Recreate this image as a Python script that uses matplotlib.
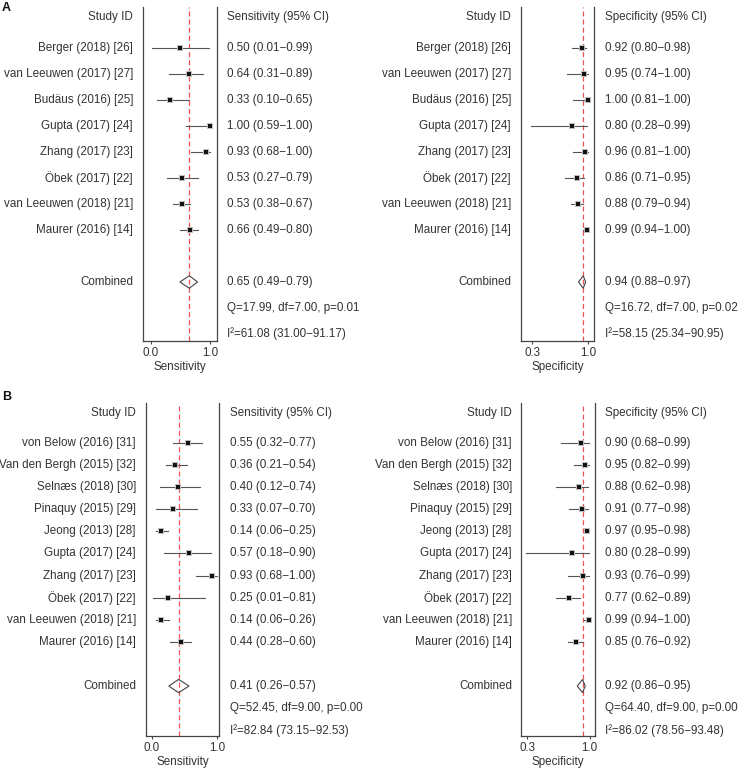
import matplotlib
matplotlib.use('Agg')
import matplotlib.pyplot as plt
from matplotlib.patches import Polygon
from matplotlib.transforms import blended_transform_factory

plt.rcParams['font.family'] = ['Liberation Sans', 'DejaVu Sans']

# Panel A data
studies_a = ['Berger (2018) [26]', 'van Leeuwen (2017) [27]', 'Budäus (2016) [25]',
             'Gupta (2017) [24]', 'Zhang (2017) [23]', 'Öbek (2017) [22]',
             'van Leeuwen (2018) [21]', 'Maurer (2016) [14]']
sens_a = [0.50, 0.64, 0.33, 1.00, 0.93, 0.53, 0.53, 0.66]
sens_a_lo = [0.01, 0.31, 0.10, 0.59, 0.68, 0.27, 0.38, 0.49]
sens_a_hi = [0.99, 0.89, 0.65, 1.00, 1.00, 0.79, 0.67, 0.80]
sens_a_comb = (0.65, 0.49, 0.79)
sens_a_q = 'Q=17.99, df=7.00, p=0.01'
sens_a_i2 = 'I²=61.08 (31.00\u221291.17)'

spec_a = [0.92, 0.95, 1.00, 0.80, 0.96, 0.86, 0.88, 0.99]
spec_a_lo = [0.80, 0.74, 0.81, 0.28, 0.81, 0.71, 0.79, 0.94]
spec_a_hi = [0.98, 1.00, 1.00, 0.99, 1.00, 0.95, 0.94, 1.00]
spec_a_comb = (0.94, 0.88, 0.97)
spec_a_q = 'Q=16.72, df=7.00, p=0.02'
spec_a_i2 = 'I²=58.15 (25.34\u221290.95)'

# Panel B data
studies_b = ['von Below (2016) [31]', 'Van den Bergh (2015) [32]', 'Selnæs (2018) [30]',
             'Pinaquy (2015) [29]', 'Jeong (2013) [28]', 'Gupta (2017) [24]',
             'Zhang (2017) [23]', 'Öbek (2017) [22]', 'van Leeuwen (2018) [21]',
             'Maurer (2016) [14]']
sens_b = [0.55, 0.36, 0.40, 0.33, 0.14, 0.57, 0.93, 0.25, 0.14, 0.44]
sens_b_lo = [0.32, 0.21, 0.12, 0.07, 0.06, 0.18, 0.68, 0.01, 0.06, 0.28]
sens_b_hi = [0.77, 0.54, 0.74, 0.70, 0.25, 0.90, 1.00, 0.81, 0.26, 0.60]
sens_b_comb = (0.41, 0.26, 0.57)
sens_b_q = 'Q=52.45, df=9.00, p=0.00'
sens_b_i2 = 'I²=82.84 (73.15\u221292.53)'

spec_b = [0.90, 0.95, 0.88, 0.91, 0.97, 0.80, 0.93, 0.77, 0.99, 0.85]
spec_b_lo = [0.68, 0.82, 0.62, 0.77, 0.95, 0.28, 0.76, 0.62, 0.94, 0.76]
spec_b_hi = [0.99, 0.99, 0.98, 0.98, 0.98, 0.99, 0.99, 0.89, 1.00, 0.92]
spec_b_comb = (0.92, 0.86, 0.95)
spec_b_q = 'Q=64.40, df=9.00, p=0.00'
spec_b_i2 = 'I²=86.02 (78.56\u221293.48)'

W, H = 745, 769
FS = 8.4
TXT = '#333333'

fig = plt.figure(figsize=(W / 100, H / 100), dpi=100)


def fmt(v, lo, hi):
    return f'{v:.2f} ({lo:.2f}\u2212{hi:.2f})'


def forest(box, xlim, ticks, ticklabels, xlabel, header, studies, est, lo, hi, comb,
           qtxt, i2txt, label_x, value_x, ylim, header_y, comb_gap, dh):
    x0, y0, x1, y1 = box
    ax = fig.add_axes([x0 / W, 1 - y1 / H, (x1 - x0) / W, (y1 - y0) / H])
    ax.set_xlim(*xlim)
    ax.set_ylim(*ylim)
    n = len(studies)
    rows = list(range(n))
    for i in rows:
        ax.plot([lo[i], hi[i]], [i, i], color='#555555', lw=0.8, zorder=2)
    ax.scatter(est, rows, marker='s', s=20, color='#bdbdbd', zorder=3, linewidths=0)
    ax.scatter(est, rows, marker='s', s=6, color='#111111', zorder=4, linewidths=0)
    cy = n - 1 + comb_gap
    v, l, h = comb
    ax.add_patch(Polygon([[l, cy], [v, cy - dh], [h, cy], [v, cy + dh]], closed=True,
                         fill=False, edgecolor='#444444', lw=0.8, zorder=3))
    ax.axvline(v, color='#f05050', ls=(0, (4, 2.5)), lw=0.9, zorder=1)
    ax.spines['top'].set_visible(False)
    for s in ['left', 'right', 'bottom']:
        ax.spines[s].set_color('#444444')
        ax.spines[s].set_linewidth(0.9)
    ax.set_yticks([])
    ax.set_xticks(ticks)
    ax.set_xticklabels(ticklabels)
    ax.tick_params(axis='x', labelsize=FS, colors='#444444', length=2, pad=2,
                   labelcolor=TXT)
    ax.set_xlabel(xlabel, fontsize=FS, color=TXT, labelpad=2)

    tl = blended_transform_factory(fig.transFigure, ax.transData)
    ax.text(label_x / W, header_y, 'Study ID', transform=tl, ha='right', va='center',
            fontsize=FS, color=TXT, clip_on=False)
    ax.text(value_x / W, header_y, header, transform=tl, ha='left', va='center',
            fontsize=FS, color=TXT, clip_on=False)
    for i in rows:
        ax.text(label_x / W, i, studies[i], transform=tl, ha='right', va='center',
                fontsize=FS, color=TXT, clip_on=False)
        ax.text(value_x / W, i, fmt(est[i], lo[i], hi[i]), transform=tl, ha='left',
                va='center', fontsize=FS, color=TXT, clip_on=False)
    ax.text(label_x / W, cy, 'Combined', transform=tl, ha='right', va='center',
            fontsize=FS, color=TXT, clip_on=False)
    ax.text(value_x / W, cy, fmt(*comb), transform=tl, ha='left', va='center',
            fontsize=FS, color=TXT, clip_on=False)
    ax.text(value_x / W, cy + 1, qtxt, transform=tl, ha='left', va='center',
            fontsize=FS, color=TXT, clip_on=False)
    ax.text(value_x / W, cy + 2, i2txt, transform=tl, ha='left', va='center',
            fontsize=FS, color=TXT, clip_on=False)
    return ax


# Panel A
forest((143, 7, 217, 341), (-0.136, 1.12), [0.0, 1.0], ['0.0', '1.0'], 'Sensitivity',
       'Sensitivity (95% CI)', studies_a, sens_a, sens_a_lo, sens_a_hi, sens_a_comb,
       sens_a_q, sens_a_i2, 133, 227, (11.27, -1.58), -1.19, 2, 0.24)
forest((521, 7, 594, 341), (0.159, 1.075), [0.3, 1.0], ['0.3', '1.0'], 'Specificity',
       'Specificity (95% CI)', studies_a, spec_a, spec_a_lo, spec_a_hi, spec_a_comb,
       spec_a_q, spec_a_i2, 511, 605, (11.27, -1.58), -1.19, 2, 0.24)

# Panel B
forest((146, 403, 219, 736), (-0.09, 1.03), [0.0, 1.0], ['0.0', '1.0'], 'Sensitivity',
       'Sensitivity (95% CI)', studies_b, sens_b, sens_b_lo, sens_b_hi, sens_b_comb,
       sens_b_q, sens_b_i2, 136, 230, (13.26, -1.81), -1.36, 2, 0.3)
forest((521, 403, 595, 736), (0.227, 1.06), [0.3, 1.0], ['0.3', '1.0'], 'Specificity',
       'Specificity (95% CI)', studies_b, spec_b, spec_b_lo, spec_b_hi, spec_b_comb,
       spec_b_q, spec_b_i2, 512, 605, (13.26, -1.81), -1.36, 2, 0.3)

fig.text(2 / W, 1 - 8 / H, 'A', fontsize=9, fontweight='bold', ha='left', va='center',
         color='#111111')
fig.text(2 / W, 1 - 397 / H, 'B', fontsize=9, fontweight='bold', ha='left', va='center',
         color='#111111')

fig.savefig('out.png', dpi=100)
